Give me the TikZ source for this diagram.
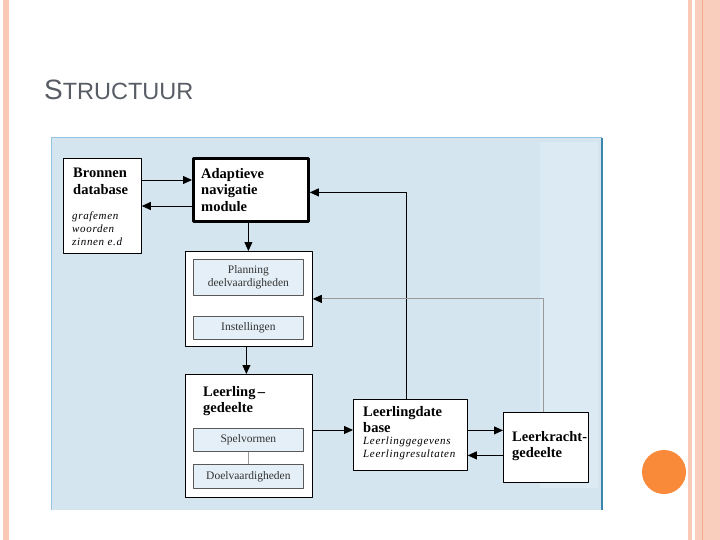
\documentclass[tikz,border=0pt]{standalone}
\usepackage{fontspec}
\setmainfont{Liberation Serif}
\newfontfamily\titelfont{Liberation Sans}
\usetikzlibrary{arrows.meta}
\definecolor{scanblauw}{RGB}{213,229,240}
\definecolor{scanlicht}{RGB}{220,234,244}
\definecolor{randblauw}{RGB}{60,134,174}
\definecolor{kaderblauw}{RGB}{150,196,222}
\definecolor{vakvul}{RGB}{228,239,247}
\definecolor{roze}{RGB}{249,201,182}
\definecolor{rozedonker}{RGB}{244,170,140}
\definecolor{oranje}{RGB}{248,138,58}
\definecolor{titelgrijs}{RGB}{88,92,100}
\begin{document}
\begin{tikzpicture}[x=1pt, y=-1pt, line join=round, >={Triangle[length=9pt,width=8pt]},
  kader/.style={draw, line width=0.8pt, fill=white, anchor=north west, inner sep=0pt},
  vak/.style={draw=black!65, line width=0.7pt, fill=vakvul, anchor=north west, minimum width=110pt,
    inner sep=1pt, align=center, text=black!80, font=\fontsize{11.5}{13}\selectfont},
  kop/.style={anchor=north west, inner sep=0pt, align=left, font=\fontsize{14.5}{16.5}\selectfont\bfseries},
  cursief/.style={anchor=north west, inner sep=0pt, align=left,
    font=\fontsize{11}{13}\selectfont\itshape\addfontfeatures{LetterSpace=6}},
  pijl/.style={->, line width=0.9pt},
  grijs/.style={draw=black!40, line width=0.9pt}]
% pagina en randen
\path[use as bounding box, fill=white] (0,0) rectangle (720,540);
\fill[roze] (3,0) rectangle (9,540);
\fill[roze] (688,0) rectangle (692,540);
\fill[roze!90] (695,0) rectangle (720,540);
\draw[rozedonker, line width=1pt] (702,0) -- (702,540);
\fill[oranje] (664,472) circle (22pt);
% titel
\node[anchor=base west, inner sep=0pt, text=titelgrijs, font=\titelfont] (titel) at (44,100)
  {{\fontsize{28}{30}\selectfont S}{\fontsize{23.5}{26}\selectfont TRUCTUUR}};
% achtergrond van de scan
\fill[scanblauw] (51,138) rectangle (602,510);
\fill[scanlicht] (540,142) rectangle (598,488);
\draw[kaderblauw, line width=1pt] (51,510) -- (51,138) -- (602,138);
\draw[randblauw, line width=2pt] (602,138) -- (602,510);
% kaders
\node[kader, minimum width=78pt, minimum height=95pt] (bron) at (63,158) {};
\node[kader, line width=2.8pt, minimum width=115pt, minimum height=63pt] (adap) at (192,157) {};
\node[kader, minimum width=127pt, minimum height=95pt] (plan) at (185,251) {};
\node[kader, minimum width=127pt, minimum height=123pt] (leer) at (185,374) {};
\node[kader, minimum width=114pt, minimum height=71pt] (ldb) at (353,399) {};
\node[kader, minimum width=85pt, minimum height=70pt] (lkr) at (503,412) {};
% vakjes binnen de kaders
\node[vak, minimum height=36pt] (planv) at (193,259) {Planning\\deelvaardigheden};
\node[vak, minimum height=23pt] (inst) at (193,316) {Instellingen};
\node[vak, minimum height=23pt] (spel) at (193,428) {Spelvormen};
\node[vak, minimum height=24pt] (doel) at (193,464) {Doelvaardigheden};
% teksten
\node[kop] (bronT) at (73,168) {Bronnen\\database};
\node[cursief] (bronI) at (72,212) {grafemen\\woorden\\zinnen e.d};
\node[kop] (adapT) at (201,168) {Adaptieve\\navigatie\\module};
\node[kop] (leerT) at (203,386) {Leerling\,--\\gedeelte};
\node[kop] (ldbT) at (363,406) {Leerlingdate\\base};
\node[cursief] (ldbI) at (363,437) {Leerlinggegevens\\Leerlingresultaten};
\node[kop] (lkrT) at (512,431) {Leerkracht-\\gedeelte};
% Bronnen <-> Adaptieve
\coordinate (heen) at ([yshift=-22pt]bron.north east);
\draw[pijl] (heen) -- (heen -| adap.west);
\coordinate (terug) at ([yshift=-49pt]adap.north west);
\draw[pijl] (terug) -- (terug -| bron.east);
% naar beneden
\draw[pijl] ([xshift=-2.5pt]adap.south) -- ([xshift=-2.5pt]adap.south |- plan.north);
\draw[pijl] ([xshift=-2.5pt]plan.south) -- ([xshift=-2.5pt]leer.north);
\draw[grijs, line width=0.7pt] (spel.south) -- (doel.north);
% Leerling -> database
\coordinate (naarDb) at ([yshift=-31pt]ldb.north west);
\draw[pijl] (naarDb -| leer.east) -- (naarDb);
% database -> Adaptieve
\draw[pijl] ([xshift=-4pt]ldb.north) |- ([yshift=-2.5pt]adap.east);
% Leerkracht -> Planning
\draw[grijs, -{Triangle[length=9pt,width=8pt,color=black]}] ([xshift=-2pt]lkr.north) |- (plan.east);
% database <-> Leerkracht
\coordinate (naarLk) at ([yshift=4.5pt]ldb.east);
\draw[pijl] (naarLk) -- (naarLk -| lkr.west);
\coordinate (vanLk) at ([yshift=-8pt]lkr.west);
\draw[pijl] (vanLk) -- (vanLk -| ldb.east);
\end{tikzpicture}
\end{document}
